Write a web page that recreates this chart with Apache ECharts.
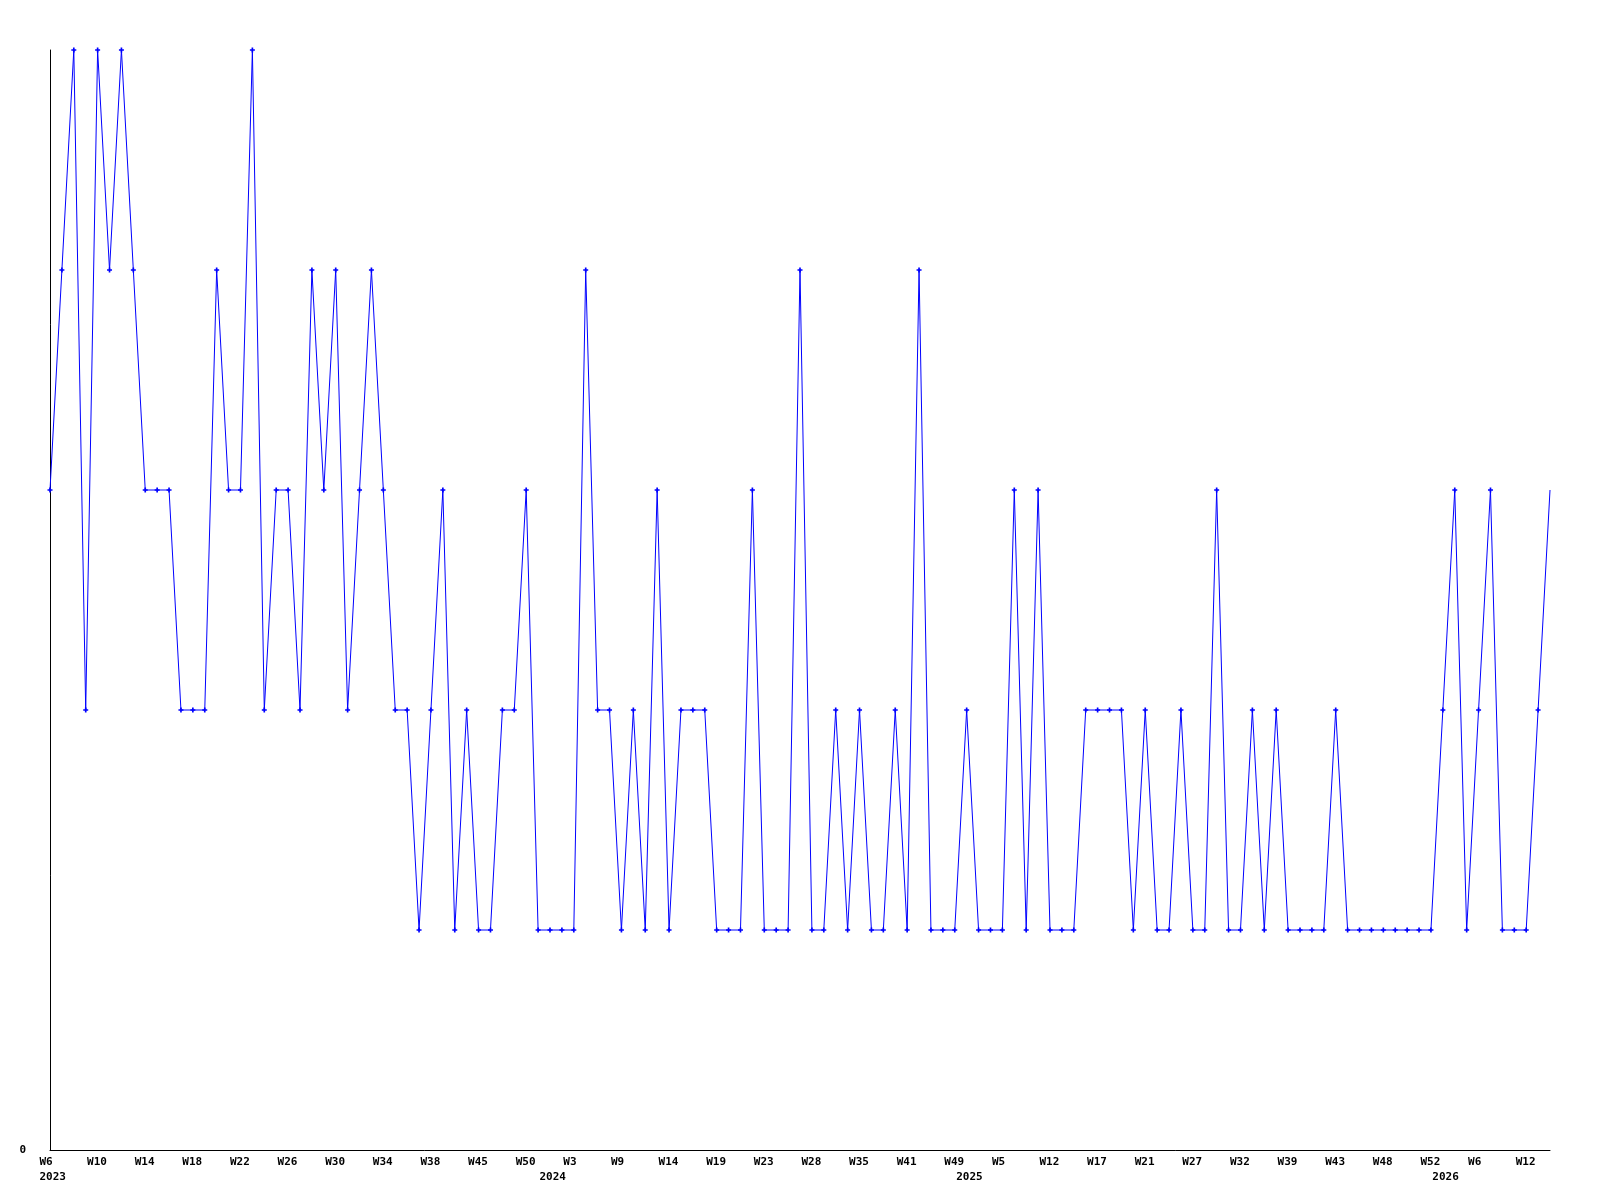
<!DOCTYPE html>
<html>
<head>
<meta charset="utf-8">
<script src="https://cdn.jsdelivr.net/npm/echarts@6/dist/echarts.min.js"></script>
<style>
html,body{margin:0;padding:0;background:#fff;}
#chart{width:1600px;height:1200px;}
</style>
</head>
<body>
<div id="chart"></div>
<script>
// Week categories (year-week) for each data point
var categories = [
 "2023-W6","2023-W7","2023-W8","2023-W9","2023-W10","2023-W11","2023-W12","2023-W13",
 "2023-W14","2023-W15","2023-W16","2023-W17","2023-W18","2023-W19","2023-W20","2023-W21",
 "2023-W22","2023-W23","2023-W24","2023-W25","2023-W26","2023-W27","2023-W28","2023-W29",
 "2023-W30","2023-W31","2023-W32","2023-W33","2023-W34","2023-W35","2023-W36","2023-W37",
 "2023-W38","2023-W40","2023-W42","2023-W43","2023-W45","2023-W46","2023-W47","2023-W49",
 "2023-W50","2023-W52","2024-W1","2024-W2","2024-W3","2024-W4","2024-W6","2024-W8",
 "2024-W9","2024-W10","2024-W11","2024-W13","2024-W14","2024-W15","2024-W16","2024-W18",
 "2024-W19","2024-W20","2024-W21","2024-W22","2024-W23","2024-W24","2024-W26","2024-W27",
 "2024-W28","2024-W30","2024-W32","2024-W33","2024-W35","2024-W37","2024-W38","2024-W40",
 "2024-W41","2024-W43","2024-W45","2024-W47","2024-W49","2025-W1","2025-W2","2025-W4",
 "2025-W5","2025-W7","2025-W9","2025-W10","2025-W12","2025-W13","2025-W14","2025-W16",
 "2025-W17","2025-W18","2025-W19","2025-W20","2025-W21","2025-W22","2025-W24","2025-W26",
 "2025-W27","2025-W28","2025-W29","2025-W31","2025-W32","2025-W34","2025-W36","2025-W37",
 "2025-W39","2025-W40","2025-W41","2025-W42","2025-W43","2025-W44","2025-W45","2025-W47",
 "2025-W48","2025-W49","2025-W50","2025-W51","2025-W52","2026-W1","2026-W3","2026-W4",
 "2026-W6","2026-W7","2026-W9","2026-W10","2026-W12","2026-W13","2026-W14"
];

// Series values
var values = [
 3,4,5,2,5,4,5,4,3,3,3,2,2,2,4,3,3,5,2,3,3,2,4,3,4,2,3,4,3,2,2,
 1,2,3,1,2,1,1,2,2,3,1,1,1,1,4,2,2,1,2,1,3,1,2,2,2,1,1,1,3,1,1,1,4,1,1,2,
 1,2,1,1,2,1,4,1,1,1,2,1,1,1,3,1,3,1,1,1,2,2,2,2,1,2,1,1,2,1,1,3,1,1,
 2,1,2,1,1,1,1,2,1,1,1,1,1,1,1,1,2,3,1,2,3,1,1,1,2,3
];

// Y tick labels shown
var yTickLabels = ["0"];

var FONT = "'DejaVu Sans Mono', monospace";

function parts(i){ var p = categories[i].split('-'); return {year:p[0], week:p[1]}; }
function isYearStart(i){ return i === 0 || parts(i).year !== parts(i-1).year; }

var seriesData = values.map(function(v, i){
  return i === values.length - 1 ? {value: v, symbol: 'none'} : v;
});

var chart = echarts.init(document.getElementById('chart'), null, {renderer:'canvas'});
chart.setOption({
  animation: false,
  backgroundColor: '#ffffff',
  grid: {left: 50, right: 50, top: 50, bottom: 50, containLabel: false},
  xAxis: {
    type: 'category',
    data: categories,
    boundaryGap: false,
    axisLine: {show: true, lineStyle: {color: '#000', width: 1}},
    axisTick: {show: false},
    splitLine: {show: false},
    axisLabel: {
      interval: function(i){ return i % 4 === 0 || isYearStart(i); },
      margin: 5,
      formatter: function(val, i){
        var p = parts(i);
        var l1 = (i % 4 === 0) ? p.week : ' ';
        var l2 = isYearStart(i) ? p.year : ' ';
        return '{w|' + l1 + '}\n{w|' + l2 + '}';
      },
      rich: {
        w: {width: 21, align: 'left', fontFamily: FONT, fontWeight: 'bold', fontSize: 11, lineHeight: 15, color: '#000'}
      },
      fontFamily: FONT, fontWeight: 'bold', fontSize: 11, color: '#000'
    }
  },
  yAxis: {
    type: 'value',
    min: 0, max: 5, interval: 5,
    axisLine: {show: true, lineStyle: {color: '#000', width: 1}},
    axisTick: {show: false},
    splitLine: {show: false},
    axisLabel: {
      margin: 24,
      formatter: function(v){ return v === 0 ? yTickLabels[0] : ''; },
      fontFamily: FONT, fontWeight: 'bold', fontSize: 11, color: '#000'
    }
  },
  series: [{
    type: 'line',
    data: seriesData,
    showAllSymbol: true,
    symbol: 'path://M2,0H4V2H6V4H4V6H2V4H0V2H2Z',
    symbolSize: 5,
    lineStyle: {color: '#0000ff', width: 1},
    itemStyle: {color: '#0000ff'},
    emphasis: {disabled: true}
  }]
});
</script>
</body>
</html>
